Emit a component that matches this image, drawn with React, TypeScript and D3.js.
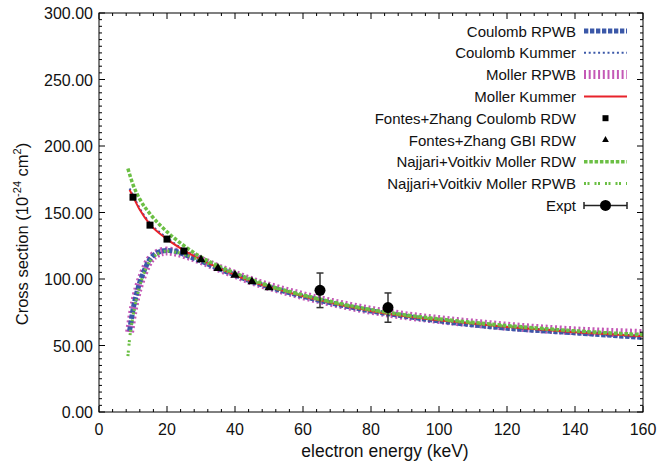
import React from "react";
import * as d3 from "d3";

// upper branch (Kummer / RDW)
const mollerKummerE = [9, 10, 12, 15, 20, 25, 30, 35, 40, 45, 50, 55, 60, 65, 70, 80, 85, 90, 100, 110, 120, 130, 140, 150, 160];
const mollerKummerY = [167, 162, 152, 141, 130, 121.5, 114.5, 108.5, 103, 98, 94, 90.5, 87, 84, 81, 76, 73.8, 72, 69, 66.5, 64, 62, 60, 58.5, 57];
const coulombKummerY = [168, 163, 153, 142, 131, 122, 115, 109, 103.5, 98.5, 94.5, 91, 87.5, 84.5, 81.5, 76.5, 74, 72, 68.8, 66, 63.5, 61.5, 59.5, 57.8, 56.5];

const najjariRdwE = [8.5, 10, 12, 15, 20, 25, 30, 35, 40, 45, 50, 60, 70, 80, 90, 100, 120, 140, 160];
const najjariRdwY = [183, 171, 160, 149, 135.5, 125, 116.5, 110, 104.5, 99.5, 95, 88, 82, 77, 73, 70, 65, 61, 58];

// lower branch (RPWB)
const rpwbE = [9, 10, 11, 12, 13, 14, 15, 17, 20, 23, 25, 30, 35, 40, 45, 50, 60, 70, 80, 90, 100, 120, 140, 160];
const mollerRpwbY = [60, 76, 88, 97, 104, 110, 114.5, 119, 121, 120, 118.5, 114, 108.5, 103.5, 98.5, 94.5, 87.5, 81.5, 76.5, 72.5, 69.5, 64.5, 61, 59];
const coulombRpwbY = [61, 77, 88.5, 97.5, 104.5, 110.5, 115, 119.5, 121.5, 120.5, 118.5, 113.5, 108, 103, 98, 94, 87, 81, 76, 72, 68.5, 63, 59.5, 56];

const najjariRpwbE = [8.5, 9, 10, 11, 12, 13, 14, 15, 17, 20, 23, 25, 30, 35, 40, 45, 50, 60, 70, 80, 90, 100, 120, 140, 160];
const najjariRpwbY = [42, 55, 72, 85, 95, 103, 109, 113.5, 118.5, 121, 120, 118.5, 114, 108.5, 103.5, 98.5, 94.5, 87.5, 81.5, 76.5, 72.5, 69.5, 64.5, 61, 58.5];

// Fontes+Zhang
const fzCoulombE = [10, 15, 20, 25];
const fzCoulombY = [161.5, 140.5, 130, 121];
const fzGbiE = [30, 35, 40, 45, 50];
const fzGbiY = [114.5, 108, 103, 98, 93.5];

// experiment
const exptE = [65, 85];
const exptY = [91.5, 78.5];
const exptLo = [78.5, 67.5];
const exptHi = [104.5, 89.5];

const xTicks = [0, 20, 40, 60, 80, 100, 120, 140, 160];
const yTicks = [0, 50, 100, 150, 200, 250, 300];

const BLUE = "#3b58a8";
const MAGENTA = "#c458b6";
const GREEN = "#6bbf44";
const RED = "#e8232b";
const FONT = "'Liberation Sans', Arial, Helvetica, sans-serif";

const W = 661;
const H = 463;
const L = 99;
const R = 643;
const T = 13;
const B = 412;

const x = d3.scaleLinear().domain([0, 160]).range([L, R]);
const y = d3.scaleLinear().domain([0, 300]).range([B, T]);

const path = (xs: number[], ys: number[]) =>
  d3
    .line<number>()
    .x((_, i) => x(xs[i]))
    .y((v) => y(v))
    .curve(d3.curveMonotoneX)(ys) || "";

const styles = {
  coulombRpwb: { stroke: BLUE, strokeWidth: 5, strokeDasharray: "4.3,1.7" },
  coulombKummer: { stroke: BLUE, strokeWidth: 2, strokeDasharray: "2,2.7" },
  mollerRpwb: { stroke: MAGENTA, strokeWidth: 9, strokeDasharray: "2,2.7" },
  mollerKummer: { stroke: RED, strokeWidth: 2, strokeDasharray: "" },
  najjariRdw: { stroke: GREEN, strokeWidth: 3.5, strokeDasharray: "3.5,1.8" },
  najjariRpwb: { stroke: GREEN, strokeWidth: 3, strokeDasharray: "2,1.5,2,5" },
};

const legend = [
  { label: "Coulomb RPWB", kind: "line", st: styles.coulombRpwb },
  { label: "Coulomb Kummer", kind: "line", st: styles.coulombKummer },
  { label: "Moller RPWB", kind: "line", st: styles.mollerRpwb },
  { label: "Moller Kummer", kind: "line", st: styles.mollerKummer },
  { label: "Fontes+Zhang Coulomb RDW", kind: "square" },
  { label: "Fontes+Zhang GBI RDW", kind: "triangle" },
  { label: "Najjari+Voitkiv Moller RDW", kind: "line", st: styles.najjariRdw },
  { label: "Najjari+Voitkiv Moller RPWB", kind: "line", st: styles.najjariRpwb },
  { label: "Expt", kind: "expt" },
];

const tri = d3.symbol().type(d3.symbolTriangle);

export default function App() {
  const minorX = d3.range(0, 161, 4);
  const minorY = d3.range(0, 301, 5);
  const lx0 = 584;
  const lx1 = 627;
  const lxm = (lx0 + lx1) / 2;
  return (
    <svg width={W} height={H} style={{ position: "absolute", left: 0, top: 0 }} fontFamily={FONT}>
      <rect width={W} height={H} fill="#fff" />
      <g fill="none">
        <path d={path(rpwbE, mollerRpwbY)} {...styles.mollerRpwb} />
        <path d={path(rpwbE, coulombRpwbY)} {...styles.coulombRpwb} />
        <path d={path(mollerKummerE, coulombKummerY)} {...styles.coulombKummer} />
        <path d={path(mollerKummerE, mollerKummerY)} {...styles.mollerKummer} />
        <path d={path(najjariRdwE, najjariRdwY)} {...styles.najjariRdw} />
        <path d={path(najjariRpwbE, najjariRpwbY)} {...styles.najjariRpwb} />
      </g>
      {fzCoulombE.map((e, i) => (
        <rect key={"s" + i} x={x(e) - 3.5} y={y(fzCoulombY[i]) - 3.5} width={7} height={7} fill="#000" />
      ))}
      {fzGbiE.map((e, i) => (
        <path key={"t" + i} d={tri.size(36)() || ""} transform={`translate(${x(e)},${y(fzGbiY[i])})`} fill="#000" />
      ))}
      {exptE.map((e, i) => (
        <g key={"x" + i} stroke="#333" strokeWidth={1.5}>
          <line x1={x(e)} x2={x(e)} y1={y(exptLo[i])} y2={y(exptHi[i])} />
          <line x1={x(e) - 3.5} x2={x(e) + 3.5} y1={y(exptLo[i])} y2={y(exptLo[i])} />
          <line x1={x(e) - 3.5} x2={x(e) + 3.5} y1={y(exptHi[i])} y2={y(exptHi[i])} />
          <circle cx={x(e)} cy={y(exptY[i])} r={5.5} fill="#000" stroke="none" />
        </g>
      ))}

      {/* frame and ticks */}
      <rect x={L} y={T} width={R - L} height={B - T} fill="none" stroke="#000" strokeWidth={1} />
      <g stroke="#000" strokeWidth={1}>
        {minorX.map((v) => {
          const len = v % 20 === 0 ? 6 : 3;
          return (
            <g key={"mx" + v}>
              <line x1={x(v)} x2={x(v)} y1={B} y2={B - len} />
              <line x1={x(v)} x2={x(v)} y1={T} y2={T + len} />
            </g>
          );
        })}
        {minorY.map((v) => {
          const len = v % 50 === 0 ? 6 : 3;
          return (
            <g key={"my" + v}>
              <line x1={L} x2={L + len} y1={y(v)} y2={y(v)} />
              <line x1={R} x2={R - len} y1={y(v)} y2={y(v)} />
            </g>
          );
        })}
      </g>
      <g fill="#111">
        {xTicks.map((v) => (
          <text key={"xt" + v} x={x(v)} y={B + 23} textAnchor="middle" fontSize={16}>
            {v}
          </text>
        ))}
        {yTicks.map((v) => (
          <text key={"yt" + v} x={L - 6} y={y(v) + 6} textAnchor="end" fontSize={16}>
            {v.toFixed(2)}
          </text>
        ))}
        <text x={(L + R) / 2 + 14} y={B + 45} textAnchor="middle" fontSize={17.5}>
          electron energy (keV)
        </text>
        <text transform={`translate(28,234) rotate(-90)`} textAnchor="middle" fontSize={16.5}>
          Cross section (10
          <tspan dy={-7} fontSize={11}>-24</tspan>
          <tspan dy={7}> cm</tspan>
          <tspan dy={-7} fontSize={11}>2</tspan>
          <tspan dy={7}>)</tspan>
        </text>
      </g>

      {/* legend */}
      <g fontSize={15} fill="#111">
        {legend.map((d, i) => {
          const cy = 31 + i * 21.8;
          return (
            <g key={"lg" + i}>
              <text x={576} y={cy + 5.5} textAnchor="end">
                {d.label}
              </text>
              {d.kind === "line" && d.st && (
                <line x1={lx0} x2={lx1} y1={cy} y2={cy} fill="none" {...d.st} />
              )}
              {d.kind === "square" && <rect x={lxm - 3} y={cy - 3} width={6} height={6} fill="#000" />}
              {d.kind === "triangle" && (
                <path d={tri.size(20)() || ""} transform={`translate(${lxm},${cy})`} fill="#000" />
              )}
              {d.kind === "expt" && (
                <g stroke="#222" strokeWidth={1.5}>
                  <line x1={lx0} x2={lx1} y1={cy} y2={cy} />
                  <line x1={lx0} x2={lx0} y1={cy - 3.5} y2={cy + 3.5} />
                  <line x1={lx1} x2={lx1} y1={cy - 3.5} y2={cy + 3.5} />
                  <circle cx={lxm} cy={cy} r={5.5} fill="#000" stroke="none" />
                </g>
              )}
            </g>
          );
        })}
      </g>
    </svg>
  );
}
